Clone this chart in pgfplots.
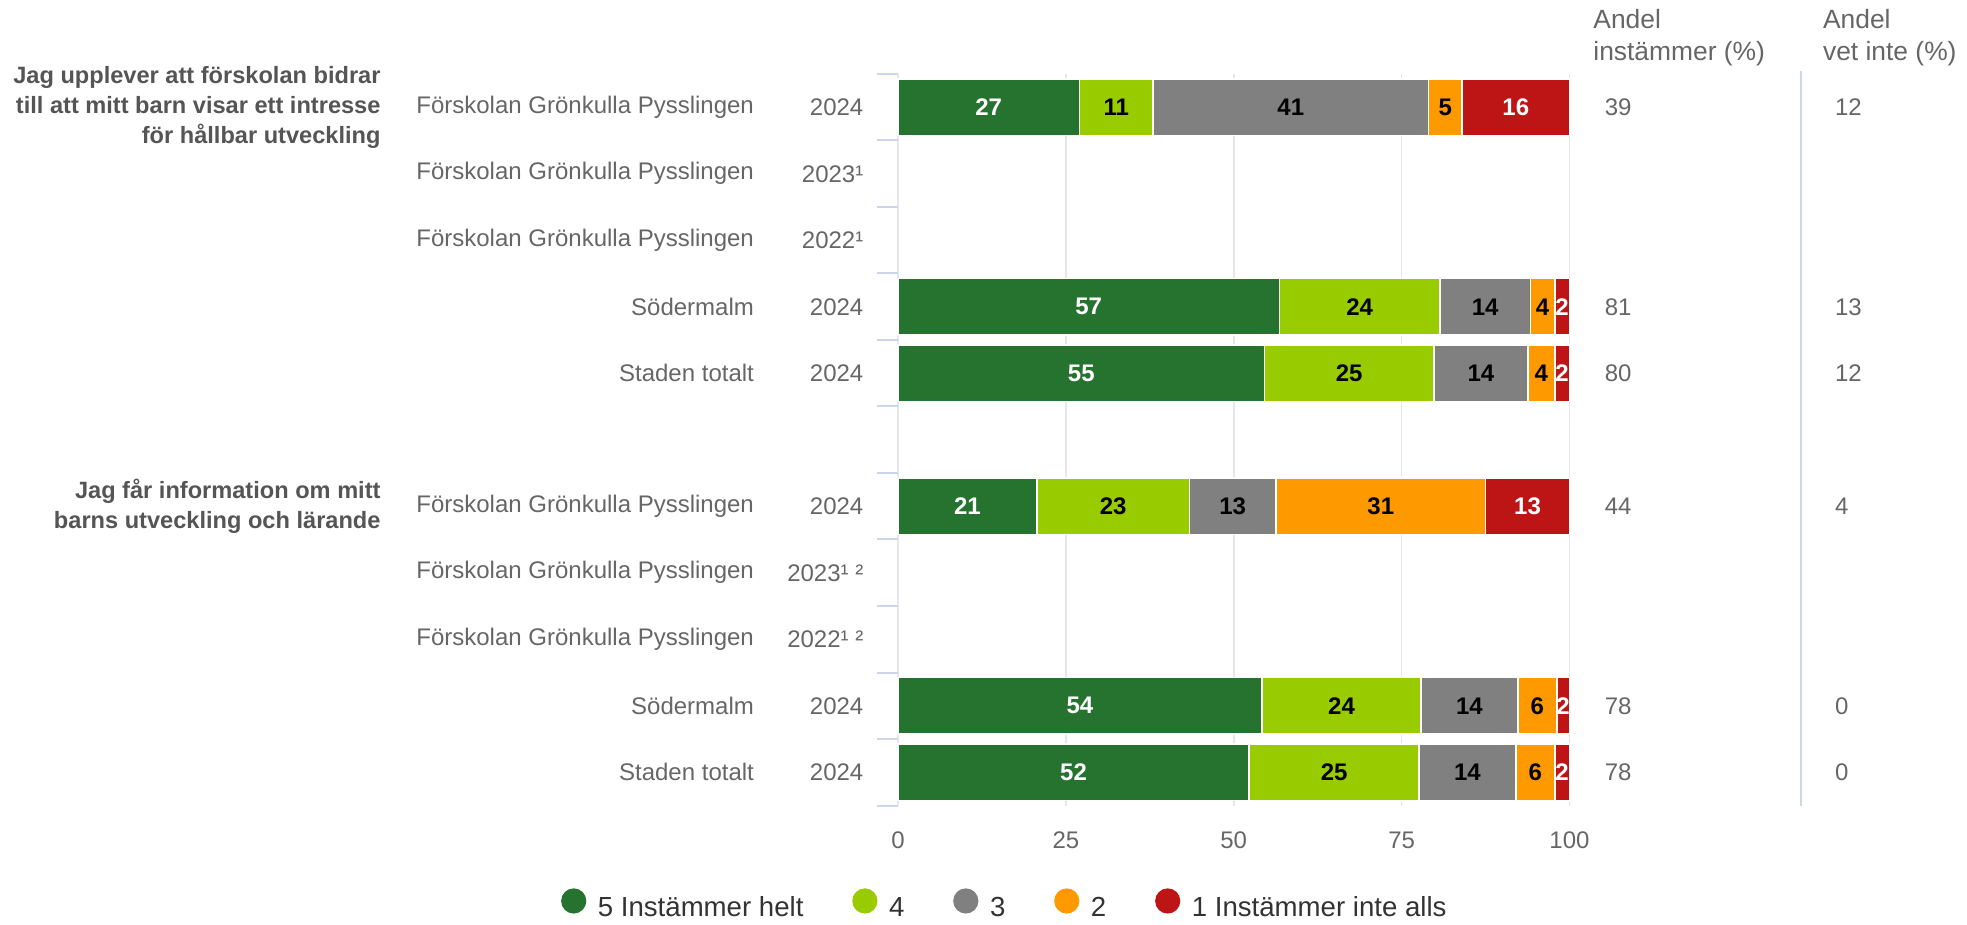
\documentclass[border=0pt]{standalone}
\usepackage{pgfplots}
\pgfplotsset{compat=1.18}
\usepackage{fontspec}
\setmainfont{Liberation Sans}
\definecolor{c5}{HTML}{267330}
\definecolor{c4}{HTML}{99CC00}
\definecolor{c3}{HTML}{808080}
\definecolor{c2}{HTML}{FF9900}
\definecolor{c1}{HTML}{BD1515}
\definecolor{axblue}{HTML}{CCD6EB}
\definecolor{gridc}{HTML}{E6E6E6}
\definecolor{txt}{HTML}{666666}
\definecolor{qtxt}{HTML}{555555}
\tikzset{
  rowlab/.style={anchor=east,font=\fontsize{12}{14}\selectfont,text=txt,inner sep=0pt},
  collab/.style={anchor=west,font=\fontsize{12}{14}\selectfont,text=txt,inner sep=0pt},
  headlab/.style={anchor=west,font=\fontsize{13.2}{15}\selectfont,text=txt,inner sep=0pt},
  qlab/.style={anchor=east,align=right,font=\bfseries\fontsize{11.8}{15}\selectfont,text=qtxt,inner sep=0pt},
}

\begin{document}
\begin{tikzpicture}
\path[use as bounding box] (0,0) rectangle (983.5pt,462.5pt);
\begin{axis}[at={(449pt,59.75pt)},anchor=south west,
  width=335.75pt,height=365.75pt,scale only axis,
  xbar stacked,bar width=28.3pt,
  xmin=0,xmax=100,ymin=-0.5,ymax=10.5,y dir=reverse,
  clip=false,
  axis x line*=bottom,axis y line*=left,
  x axis line style={draw=none},
  y axis line style={draw=none},
  xtick={0,25,50,75,100},x tick style={draw=none},
  ytick={-0.5,0.5,...,10.5},yticklabels={},
  y tick style={draw=axblue,line width=1pt},
  tick align=outside,major tick length=10.5pt,
  xmajorgrids,major grid style={gridc,line width=0.8pt},
  xticklabel style={font=\fontsize{12}{14}\selectfont,text=txt,yshift=1pt},
  /pgf/number format/assume math mode=true,
  point meta=explicit symbolic,
  nodes near coords,
  every node near coord/.append style={font=\bfseries\fontsize{12}{14}\selectfont},
  legend columns=5,legend cell align=left,
  legend image code/.code={\path (-6.3pt,0pt) rectangle (9.7pt,0.1pt);
    \fill[#1,draw=none] (0pt,0.36em) circle (6.3pt);},
  legend style={draw=none,at={(0.16,-0.1374)},anchor=center,
    font=\fontsize{13.8}{15}\selectfont,text=black!80,
    /tikz/every even column/.append style={column sep=22pt}},
]
\addplot[fill=c5,draw=white,line width=0.8pt,nodes near coords style={white}] coordinates {
(27,0) [27] (56.8,3) [57] (54.6,4) [55] (20.7,6) [21] (54.2,9) [54] (52.3,10) [52]};
\addlegendentry{5 Instämmer helt}
\addplot[fill=c4,draw=white,line width=0.8pt,nodes near coords style={black}] coordinates {
(11,0) [11] (23.9,3) [24] (25.2,4) [25] (22.7,6) [23] (23.7,9) [24] (25.3,10) [25]};
\addlegendentry{4}
\addplot[fill=c3,draw=white,line width=0.8pt,nodes near coords style={black}] coordinates {
(41,0) [41] (13.5,3) [14] (14.0,4) [14] (12.9,6) [13] (14.4,9) [14] (14.4,10) [14]};
\addlegendentry{3}
\addplot[fill=c2,draw=white,line width=0.8pt,nodes near coords style={black}] coordinates {
(5,0) [5] (3.6,3) [4] (4.0,4) [4] (31.2,6) [31] (5.8,9) [6] (5.8,10) [6]};
\addlegendentry{2}
\addplot[fill=c1,draw=white,line width=0.8pt,nodes near coords style={white}] coordinates {
(16,0) [16] (2.2,3) [2] (2.2,4) [2] (12.5,6) [13] (1.9,9) [2] (2.2,10) [2]};
\addlegendentry{1 Instämmer inte alls}

\node[qlab] at (axis cs:-77,0) {Jag upplever att förskolan bidrar\\till att mitt barn visar ett intresse\\för hållbar utveckling};
\node[qlab] at (axis cs:-77,6) {Jag får information om mitt\\barns utveckling och lärande};

\node[rowlab] at (axis cs:-21.4,0) {Förskolan Grönkulla Pysslingen};
\node[rowlab] at (axis cs:-21.4,1) {Förskolan Grönkulla Pysslingen};
\node[rowlab] at (axis cs:-21.4,2) {Förskolan Grönkulla Pysslingen};
\node[rowlab] at (axis cs:-21.4,3) {Södermalm};
\node[rowlab] at (axis cs:-21.4,4) {Staden totalt};
\node[rowlab] at (axis cs:-21.4,6) {Förskolan Grönkulla Pysslingen};
\node[rowlab] at (axis cs:-21.4,7) {Förskolan Grönkulla Pysslingen};
\node[rowlab] at (axis cs:-21.4,8) {Förskolan Grönkulla Pysslingen};
\node[rowlab] at (axis cs:-21.4,9) {Södermalm};
\node[rowlab] at (axis cs:-21.4,10) {Staden totalt};
\node[rowlab] at (axis cs:-5.1,0) {2024};
\node[rowlab] at (axis cs:-5.1,1) {2023¹};
\node[rowlab] at (axis cs:-5.1,2) {2022¹};
\node[rowlab] at (axis cs:-5.1,3) {2024};
\node[rowlab] at (axis cs:-5.1,4) {2024};
\node[rowlab] at (axis cs:-5.1,6) {2024};
\node[rowlab] at (axis cs:-5.1,7) {2023¹ ²};
\node[rowlab] at (axis cs:-5.1,8) {2022¹ ²};
\node[rowlab] at (axis cs:-5.1,9) {2024};
\node[rowlab] at (axis cs:-5.1,10) {2024};

\draw[axblue,line width=0.9pt] (axis cs:134.5,-0.55) -- (axis cs:134.5,10.5);
\node[headlab] at (axis cs:103.5,-1.327) {Andel};
\node[headlab] at (axis cs:103.5,-0.80) {instämmer (\%)};
\node[headlab] at (axis cs:137.7,-1.327) {Andel};
\node[headlab] at (axis cs:137.7,-0.80) {vet inte (\%)};
\node[collab] at (axis cs:105.2,0) {39};
\node[collab] at (axis cs:105.2,3) {81};
\node[collab] at (axis cs:105.2,4) {80};
\node[collab] at (axis cs:105.2,6) {44};
\node[collab] at (axis cs:105.2,9) {78};
\node[collab] at (axis cs:105.2,10) {78};
\node[collab] at (axis cs:139.5,0) {12};
\node[collab] at (axis cs:139.5,3) {13};
\node[collab] at (axis cs:139.5,4) {12};
\node[collab] at (axis cs:139.5,6) {4};
\node[collab] at (axis cs:139.5,9) {0};
\node[collab] at (axis cs:139.5,10) {0};
\end{axis}
\end{tikzpicture}
\end{document}
